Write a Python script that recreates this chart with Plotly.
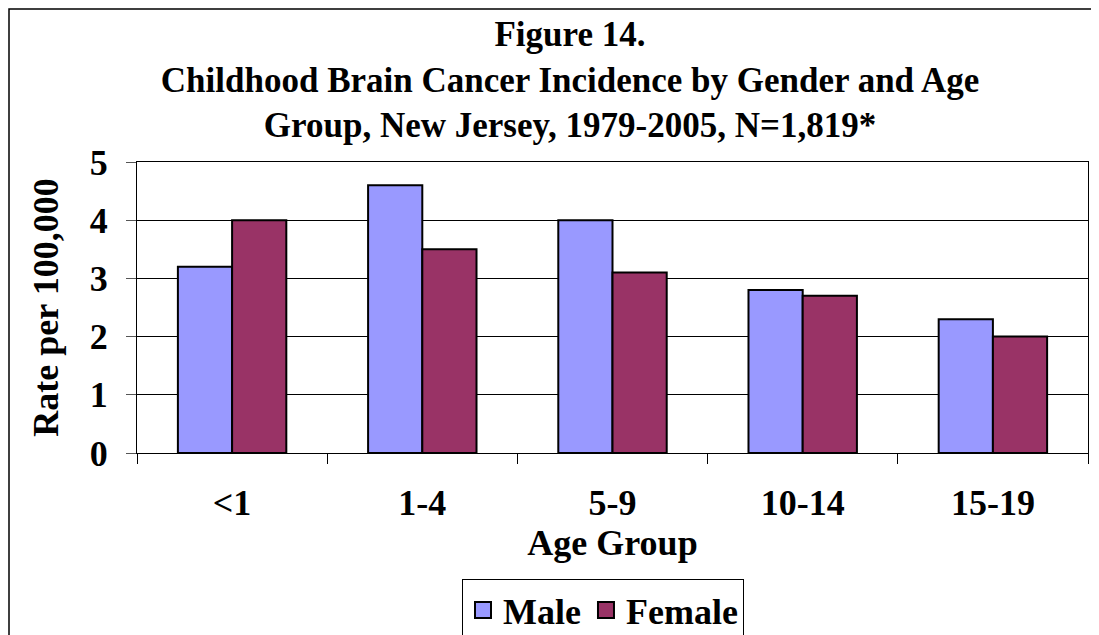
import plotly.graph_objects as go

age_groups = ["<1", "1-4", "5-9", "10-14", "15-19"]
male_rate = [3.2, 4.6, 4.0, 2.8, 2.3]
female_rate = [4.0, 3.5, 3.1, 2.7, 2.0]
y_ticks = [0, 1, 2, 3, 4, 5]

FONT = "Liberation Serif, Times New Roman, serif"
MALE_COLOR = "#9999FF"
FEMALE_COLOR = "#993366"

fig = go.Figure()
fig.add_trace(go.Bar(x=age_groups, y=male_rate, name="Male", showlegend=False,
                     marker=dict(color=MALE_COLOR, line=dict(color="black", width=2))))
fig.add_trace(go.Bar(x=age_groups, y=female_rate, name="Female", showlegend=False,
                     marker=dict(color=FEMALE_COLOR, line=dict(color="black", width=2))))

# legend proxies so the swatches come out larger than the default bar icon
for name, color in [("Male", MALE_COLOR), ("Female", FEMALE_COLOR)]:
    fig.add_trace(go.Scatter(x=[None], y=[None], mode="markers", name=name,
                             marker=dict(symbol="square", size=16, color=color,
                                         line=dict(color="black", width=2))))

# the page body adds an 8px offset, so figure coords = page coords - 8
fig.update_layout(
    width=1099, height=635,
    margin=dict(l=129, r=19, t=154, b=190, autoexpand=False),
    paper_bgcolor="white", plot_bgcolor="white",
    font=dict(family=FONT, size=36, color="black", weight="bold"),
    bargap=0.43, bargroupgap=0,
    title=dict(
        text="Figure 14.<br>Childhood Brain Cancer Incidence by Gender and Age<br>"
             "Group, New Jersey, 1979-2005, N=1,819*",
        x=562 / 1099, xref="container", xanchor="center",
        y=1 - 38 / 635, yref="container", yanchor="top",
        font=dict(family=FONT, size=35, color="black", weight="bold"),
    ),
    xaxis=dict(
        type="category", tickson="boundaries", ticks="outside", ticklen=10,
        tickcolor="black", showline=True, linecolor="black", linewidth=1, mirror=True,
        showgrid=False, ticklabelstandoff=18, automargin=False,
        title=dict(text="Age Group", standoff=1,
                   font=dict(family=FONT, size=36, weight="bold")),
    ),
    yaxis=dict(
        range=[0, 5], tickvals=y_ticks, ticks="outside", ticklen=10, tickcolor="#555",
        showline=True, linecolor="black", linewidth=1, mirror=True,
        showgrid=True, gridcolor="black", gridwidth=1, zeroline=False,
        ticklabelstandoff=11, automargin=False,
        title=dict(text="Rate per 100,000", standoff=20,
                   font=dict(family=FONT, size=36, weight="bold")),
    ),
    legend=dict(
        orientation="h", xref="paper", x=(454 - 129) / 951, xanchor="left",
        yref="container", y=1 - 571 / 635, yanchor="top",
        bordercolor="black", borderwidth=1,
        font=dict(family=FONT, size=36, color="black", weight="bold"),
        itemsizing="trace", itemwidth=30, tracegroupgap=0,
    ),
    shapes=[dict(type="rect", xref="paper", yref="paper",
                 x0=-128 / 951, x1=1.2, y0=-1.0, y1=444 / 291,
                 line=dict(color="black", width=1.5), fillcolor="rgba(0,0,0,0)",
                 layer="below")],
)

fig.write_html("out.html")
